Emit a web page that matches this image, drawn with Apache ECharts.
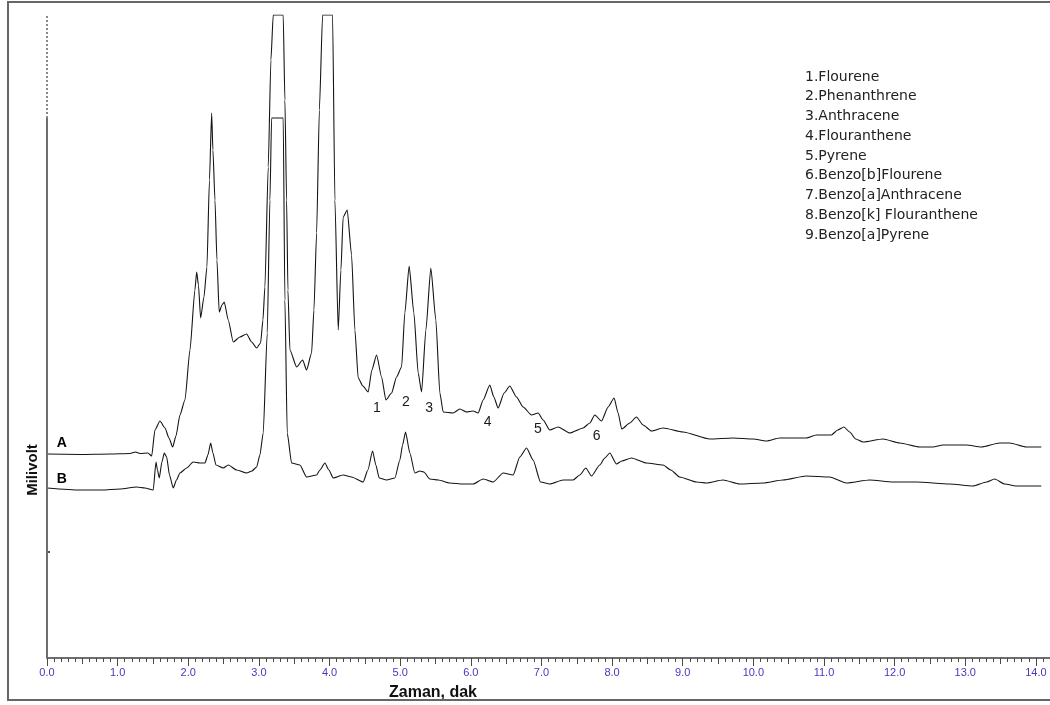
<!DOCTYPE html>
<html>
<head>
<meta charset="utf-8">
<title>HPLC chromatogram</title>
<script src="https://cdn.jsdelivr.net/npm/echarts@6/dist/echarts.min.js"></script>
<style>
  html, body { margin: 0; padding: 0; background: #ffffff; }
  #chart { width: 1050px; height: 705px; }
</style>
</head>
<body>
<div id="chart"></div>
<script>
// Trace A: retention time (min) and detector signal (relative units)
const timeA = [0, 0.467, 0.892, 1.175, 1.252, 1.316, 1.429, 1.482, 1.528, 1.599,
  1.670, 1.727, 1.779, 1.826, 1.882, 1.953, 2.024, 2.094, 2.119, 2.144,
  2.175, 2.222, 2.264, 2.300, 2.331, 2.349, 2.378, 2.406, 2.438, 2.477,
  2.509, 2.566, 2.637, 2.731, 2.826, 2.897, 2.968, 3.024, 3.057, 3.085,
  3.132, 3.170, 3.203, 3.344, 3.368, 3.392, 3.411, 3.439, 3.534, 3.619,
  3.675, 3.746, 3.779, 3.817, 3.856, 3.902, 4.043, 4.076, 4.123, 4.161,
  4.193, 4.250, 4.312, 4.359, 4.406, 4.472, 4.547, 4.599, 4.666, 4.737,
  4.798, 4.878, 4.949, 5.020, 5.066, 5.127, 5.194, 5.255, 5.303, 5.364,
  5.434, 5.505, 5.562, 5.609, 5.750, 5.845, 5.940, 6.033, 6.104, 6.175,
  6.269, 6.326, 6.387, 6.472, 6.552, 6.647, 6.741, 6.860, 6.953, 7.024,
  7.118, 7.236, 7.402, 7.590, 7.685, 7.755, 7.850, 7.944, 8.029, 8.085,
  8.137, 8.251, 8.345, 8.439, 8.558, 8.722, 9.005, 9.383, 9.713, 9.996,
  10.185, 10.374, 10.751, 10.893, 11.105, 11.194, 11.283, 11.364, 11.449, 11.553,
  11.836, 12.072, 12.355, 12.543, 12.684, 13.016, 13.228, 13.487, 13.629, 13.865,
  14.077];
const signalA = [204, 203.5, 204, 204.5, 206, 204.5, 205, 202, 228, 237,
  230, 220, 211, 222, 243, 258, 308, 368, 386, 373,
  340, 361, 391, 478, 545, 508, 458, 398, 346, 353,
  356, 338, 316, 321, 324, 316, 310, 315, 338, 371,
  491, 598, 643, 643, 558, 458, 368, 308, 291, 298,
  288, 305, 348, 425, 548, 643, 643, 458, 328, 388,
  441, 448, 403, 328, 280, 272, 266, 288, 303, 281,
  258, 265, 281, 291, 345, 392, 345, 285, 266, 328,
  390, 338, 265, 246, 245, 249, 246, 247, 245, 258,
  273, 261, 250, 265, 272, 261, 251, 243, 245, 238,
  228, 231, 225, 230, 235, 243, 237, 251, 260, 245,
  229, 235, 241, 233, 227, 230, 226, 219, 220, 219,
  217, 220, 220, 223, 223, 228, 231, 226, 219, 216,
  219, 215, 211, 211, 213, 213, 211, 215, 215, 211,
  211];

// Trace B: retention time (min) and detector signal (relative units)
const timeB = [0, 0.467, 0.774, 1.033, 1.269, 1.387, 1.504, 1.543, 1.564, 1.589,
  1.627, 1.660, 1.694, 1.734, 1.787, 1.833, 1.882, 1.977, 2.070, 2.165,
  2.236, 2.278, 2.317, 2.349, 2.392, 2.495, 2.566, 2.685, 2.826, 2.901,
  2.968, 3.014, 3.061, 3.118, 3.156, 3.180, 3.344, 3.368, 3.401, 3.463,
  3.580, 3.675, 3.817, 3.864, 3.934, 3.991, 4.052, 4.193, 4.312, 4.476,
  4.543, 4.609, 4.656, 4.703, 4.807, 4.925, 4.996, 5.034, 5.076, 5.137,
  5.208, 5.279, 5.335, 5.420, 5.538, 5.703, 5.891, 6.033, 6.175, 6.316,
  6.458, 6.599, 6.694, 6.789, 6.882, 6.987, 7.118, 7.307, 7.448, 7.543,
  7.628, 7.709, 7.826, 7.897, 7.968, 8.062, 8.137, 8.275, 8.487, 8.722,
  8.831, 8.958, 9.194, 9.336, 9.571, 9.807, 10.137, 10.420, 10.751, 11.081,
  11.317, 11.647, 11.977, 12.308, 12.779, 13.109, 13.303, 13.416, 13.558, 13.723,
  14.077];
const signalB = [170, 168, 168, 169, 171, 170, 168, 196, 188, 180,
  196, 205, 201, 183, 170, 178, 185, 190, 196, 195,
  195, 203, 215, 205, 193, 190, 193, 188, 185, 187,
  191, 203, 225, 325, 458, 540, 540, 358, 225, 195,
  193, 181, 183, 188, 195, 188, 180, 183, 181, 176,
  188, 207, 193, 180, 178, 180, 198, 213, 226, 205,
  185, 187, 186, 179, 178, 175, 174, 174, 179, 176,
  185, 183, 201, 210, 198, 176, 174, 178, 178, 183,
  190, 182, 193, 200, 205, 194, 197, 200, 195, 193,
  188, 181, 176, 175, 178, 174, 175, 178, 182, 181,
  175, 178, 176, 176, 174, 172, 176, 179, 174, 172,
  172];

// Detector full scale (top of plot) and the clipping level of trace B
const fullScale = 643;
const clipLevelB = 540;

// Peak numbers written under trace A
const peakIds = ['1', '2', '3', '4', '5', '6'];
const peakIdTime = [4.67, 5.08, 5.41, 6.24, 6.95, 7.78];
const peakIdLevel = [250, 256, 250, 236, 229, 222];

// Trace names written at the start of each trace
const traceNames = ['A', 'B'];
const traceNameTime = [0.21, 0.21];
const traceNameLevel = [215, 179];

// Compound key
const compounds = ['1.Flourene', '2.Phenanthrene', '3.Anthracene', '4.Flouranthene',
  '5.Pyrene', '6.Benzo[b]Flourene', '7.Benzo[a]Anthracene',
  '8.Benzo[k] Flouranthene', '9.Benzo[a]Pyrene'];

const zip = (xs, ys) => xs.map((x, i) => [x, ys[i]]);

const X_MAX = 14.2;

const chart = echarts.init(document.getElementById('chart'), null, { renderer: 'canvas' });

const traceStyle = { color: '#141414', width: 1.1 };
const tickColor = '#4a4a4a';

// Three stacked bottom axes give the 0.1 / 0.5 / 1.0 tick hierarchy
const timeAxis = (interval, tickLen, extra) => Object.assign({
  type: 'value', min: 0, max: X_MAX, interval: interval, position: 'bottom',
  axisLine: { show: false },
  axisTick: { show: true, length: tickLen, lineStyle: { color: tickColor, width: 1 } },
  axisLabel: { show: false },
  splitLine: { show: false }
}, extra || {});

chart.setOption({
  animation: false,
  grid: { left: 47, top: 15, right: 0, bottom: 47, containLabel: false },
  xAxis: [
    timeAxis(0.1, 4, { axisLine: { show: true, lineStyle: { color: '#6e6e6e', width: 2 } } }),
    timeAxis(0.5, 6),
    timeAxis(1, 8, {
      axisLabel: {
        show: true, margin: 9, color: '#5033bd', fontSize: 11, fontFamily: 'Liberation Sans',
        showMaxLabel: false,
        formatter: v => (Math.abs(v - Math.round(v)) < 1e-6 ? v.toFixed(1) : '')
      }
    })
  ],
  yAxis: {
    type: 'value', min: 0, max: fullScale,
    axisLine: { show: false },
    axisTick: { show: true, inside: true, length: 3, customValues: [106], lineStyle: { color: '#555', width: 2 } },
    axisLabel: { show: false },
    splitLine: { show: false }
  },
  series: [
    {
      name: 'A', type: 'line', xAxisIndex: 0, data: zip(timeA, signalA),
      showSymbol: false, symbol: 'none', lineStyle: traceStyle, z: 3,
      smooth: 0.2, smoothMonotone: 'x',
      markLine: {
        silent: true, symbol: ['none', 'none'], label: { show: false }, animation: false,
        data: [
          [{ coord: [0, 0], lineStyle: { color: '#6e6e6e', width: 2, type: 'solid' } }, { coord: [0, clipLevelB] }],
          [{ coord: [0, clipLevelB], lineStyle: { color: '#8a8a8a', width: 2, type: [2, 2] } }, { coord: [0, fullScale] }]
        ]
      }
    },
    {
      name: 'B', type: 'line', xAxisIndex: 0, data: zip(timeB, signalB),
      showSymbol: false, symbol: 'none', lineStyle: traceStyle, z: 3,
      smooth: 0.2, smoothMonotone: 'x'
    },
    {
      name: 'peaks', type: 'scatter', xAxisIndex: 0, silent: true,
      data: peakIds.map((id, i) => [peakIdTime[i], peakIdLevel[i], id]),
      symbol: 'circle', symbolSize: 1, itemStyle: { color: 'rgba(0,0,0,0)' },
      label: {
        show: true, position: 'inside', formatter: p => p.data[2],
        color: '#1a1a1a', opacity: 1, fontSize: 14, fontFamily: 'Liberation Sans'
      }
    },
    {
      name: 'traces', type: 'scatter', xAxisIndex: 0, silent: true,
      data: traceNames.map((n, i) => [traceNameTime[i], traceNameLevel[i], n]),
      symbol: 'circle', symbolSize: 1, itemStyle: { color: 'rgba(0,0,0,0)' },
      label: {
        show: true, position: 'inside', formatter: p => p.data[2],
        color: '#000', opacity: 1, fontSize: 14, fontWeight: 'bold', fontFamily: 'Liberation Sans'
      }
    }
  ],
  graphic: [
    {
      type: 'rect', silent: true, z: 100,
      shape: { x: 8, y: 2, width: 1080, height: 698 },
      style: { fill: 'none', stroke: '#666', lineWidth: 2 }
    },
    {
      type: 'text', silent: true, x: 433, y: 693,
      style: { text: 'Zaman, dak', font: 'bold 16px "Liberation Sans"', fill: '#111', align: 'center', verticalAlign: 'middle' }
    },
    {
      type: 'text', silent: true, x: 33, y: 470, rotation: Math.PI / 2,
      style: { text: 'Milivolt', font: 'bold 15px "Liberation Sans"', fill: '#111', align: 'center', verticalAlign: 'middle' }
    },
    {
      type: 'text', silent: true, x: 805, y: 67,
      style: { text: compounds.join('\n'), font: '14px "DejaVu Sans"', lineHeight: 19.75, fill: '#222', align: 'left', verticalAlign: 'top' }
    }
  ]
});
</script>
</body>
</html>
